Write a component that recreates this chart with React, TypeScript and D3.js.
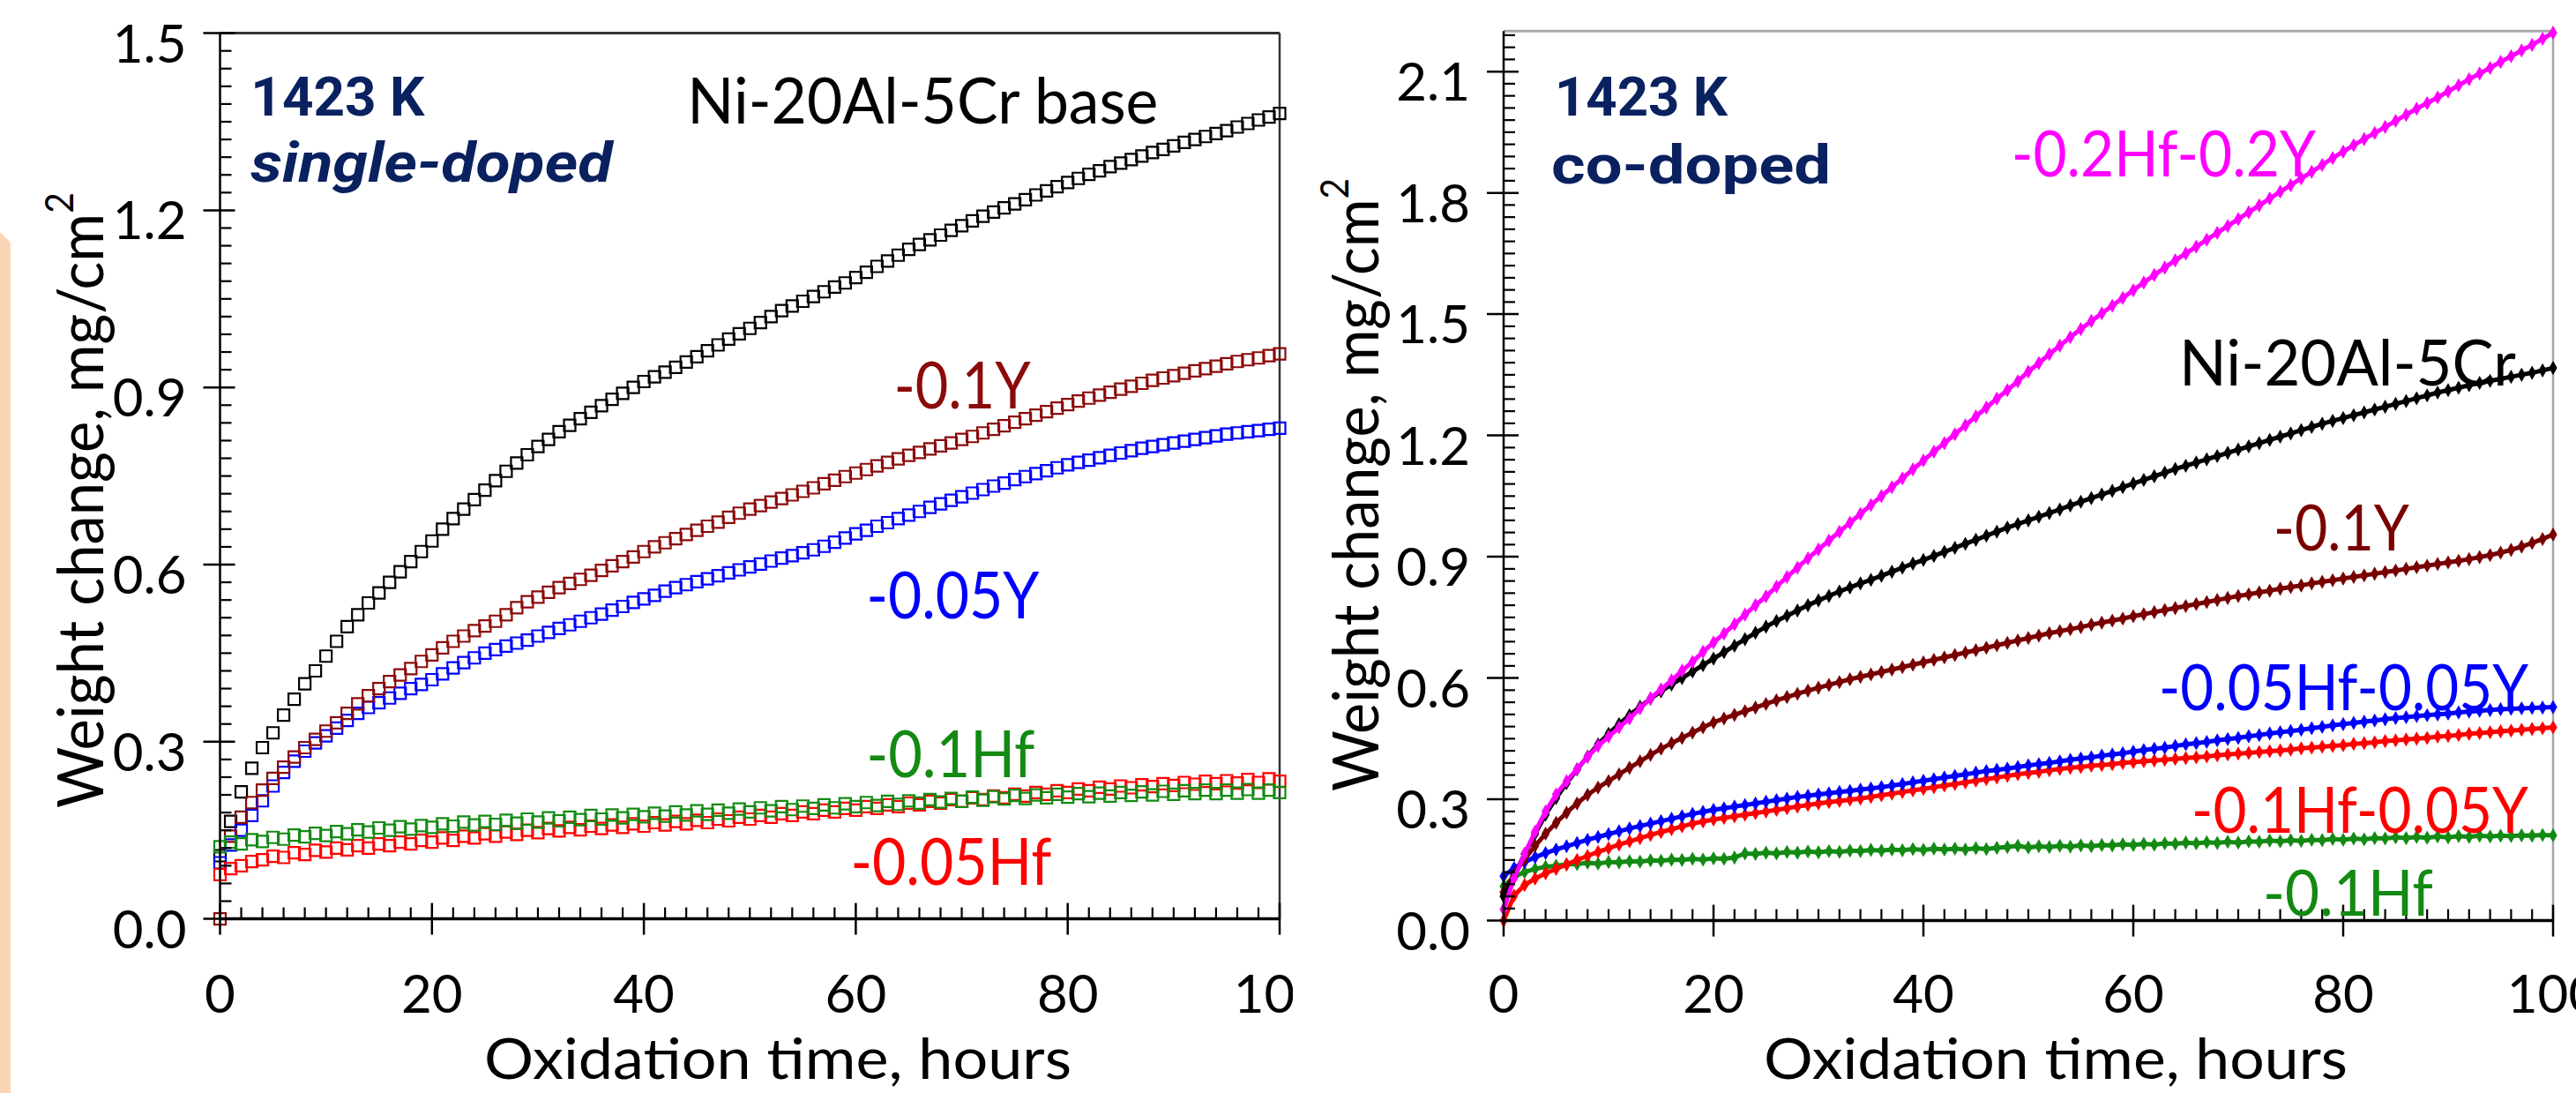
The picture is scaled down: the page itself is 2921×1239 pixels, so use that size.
import React from 'react';
import * as d3 from 'd3';

const W = 2921;
const H = 1239;
const FONT = "Lato, 'Open Sans', sans-serif";

// sampling grid, hours
const HOURS = [
  0, 1, 2, 3, 4, 5, 6, 7, 8, 9, 10, 11, 12, 13, 14, 15, 16, 17, 18, 19,
  20, 21, 22, 23, 24, 25, 26, 27, 28, 29, 30, 31, 32, 33, 34, 35, 36, 37, 38, 39,
  40, 41, 42, 43, 44, 45, 46, 47, 48, 49, 50, 51, 52, 53, 54, 55, 56, 57, 58, 59,
  60, 61, 62, 63, 64, 65, 66, 67, 68, 69, 70, 71, 72, 73, 74, 75, 76, 77, 78, 79,
  80, 81, 82, 83, 84, 85, 86, 87, 88, 89, 90, 91, 92, 93, 94, 95, 96, 97, 98, 99, 100,
];

// ---- left panel: single-doped, mg/cm2 ----
const baseL = [
  0.107, 0.165, 0.215, 0.255, 0.29, 0.315, 0.345, 0.372, 0.398, 0.42,
  0.445, 0.47, 0.495, 0.515, 0.535, 0.552, 0.57, 0.588, 0.605, 0.622,
  0.64, 0.66, 0.678, 0.694, 0.71, 0.726, 0.742, 0.758, 0.772, 0.786,
  0.8, 0.812, 0.825, 0.836, 0.847, 0.858, 0.869, 0.88, 0.89, 0.9,
  0.91, 0.918, 0.926, 0.934, 0.943, 0.952, 0.962, 0.972, 0.982, 0.991,
  1.0, 1.01, 1.02, 1.03, 1.038, 1.046, 1.054, 1.062, 1.07, 1.077,
  1.086, 1.095, 1.105, 1.114, 1.124, 1.134, 1.142, 1.15, 1.158, 1.166,
  1.174, 1.182, 1.19, 1.197, 1.204, 1.211, 1.218, 1.226, 1.233, 1.24,
  1.247, 1.254, 1.261, 1.267, 1.274, 1.28, 1.286, 1.292, 1.298, 1.303,
  1.309, 1.315, 1.32, 1.325, 1.33, 1.335, 1.341, 1.347, 1.353, 1.358,
  1.364,
];
const y01L = [
  0.0, 0.14, 0.172, 0.197, 0.218, 0.238, 0.257, 0.274, 0.29, 0.304,
  0.318, 0.332, 0.348, 0.364, 0.378, 0.39, 0.402, 0.413, 0.424, 0.436,
  0.447, 0.459, 0.47, 0.479, 0.488, 0.496, 0.504, 0.515, 0.527, 0.537,
  0.545, 0.553, 0.561, 0.568, 0.575, 0.582, 0.59, 0.598, 0.605, 0.613,
  0.622, 0.63, 0.637, 0.644, 0.651, 0.658, 0.665, 0.672, 0.68, 0.687,
  0.694, 0.7, 0.706, 0.712, 0.718, 0.724, 0.73, 0.737, 0.743, 0.749,
  0.755, 0.761, 0.767, 0.773, 0.779, 0.785, 0.79, 0.796, 0.801, 0.806,
  0.812, 0.817, 0.823, 0.829, 0.835, 0.841, 0.847, 0.853, 0.859, 0.865,
  0.871, 0.877, 0.882, 0.887, 0.892, 0.897, 0.902, 0.907, 0.912, 0.916,
  0.92, 0.924, 0.928, 0.932, 0.936, 0.94, 0.944, 0.947, 0.95, 0.954,
  0.957,
];
const y005L = [
  0.095, 0.125, 0.15, 0.175, 0.2, 0.225, 0.248, 0.267, 0.284, 0.298,
  0.31, 0.323, 0.336, 0.348, 0.358, 0.366, 0.374, 0.382, 0.39, 0.397,
  0.405, 0.415, 0.425, 0.434, 0.442, 0.45, 0.456, 0.462, 0.467, 0.472,
  0.479, 0.485, 0.492, 0.498, 0.504, 0.51, 0.516, 0.523, 0.529, 0.536,
  0.542, 0.548, 0.555, 0.561, 0.566, 0.571, 0.576, 0.581, 0.586, 0.591,
  0.596, 0.601, 0.606, 0.611, 0.615, 0.62, 0.625, 0.631, 0.638, 0.645,
  0.652, 0.658, 0.665, 0.671, 0.678, 0.684, 0.69, 0.697, 0.703, 0.709,
  0.715, 0.721, 0.727, 0.733, 0.738, 0.744, 0.749, 0.754, 0.759, 0.764,
  0.769, 0.773, 0.777, 0.781, 0.785, 0.789, 0.793, 0.797, 0.8, 0.803,
  0.806, 0.809, 0.812, 0.815, 0.818, 0.821, 0.823, 0.825, 0.827, 0.829,
  0.831,
];
const hf01L = [
  0.122, 0.13, 0.127, 0.134, 0.131, 0.138, 0.135, 0.142, 0.139, 0.145,
  0.141, 0.148, 0.144, 0.151, 0.147, 0.154, 0.15, 0.156, 0.152, 0.158,
  0.155, 0.161, 0.157, 0.164, 0.159, 0.165, 0.16, 0.167, 0.162, 0.169,
  0.164, 0.171, 0.166, 0.172, 0.168, 0.175, 0.169, 0.176, 0.171, 0.177,
  0.173, 0.179, 0.174, 0.181, 0.176, 0.183, 0.177, 0.184, 0.179, 0.186,
  0.181, 0.188, 0.183, 0.19, 0.185, 0.191, 0.187, 0.193, 0.188, 0.195,
  0.19, 0.197, 0.192, 0.199, 0.194, 0.2, 0.196, 0.202, 0.198, 0.204,
  0.199, 0.206, 0.201, 0.207, 0.203, 0.209, 0.204, 0.21, 0.205, 0.211,
  0.206, 0.212, 0.207, 0.213, 0.208, 0.214, 0.209, 0.215, 0.21, 0.216,
  0.211, 0.217, 0.212, 0.218, 0.212, 0.218, 0.213, 0.219, 0.213, 0.218,
  0.214,
];
const hf005L = [
  0.075, 0.085, 0.09, 0.097, 0.1, 0.106, 0.104, 0.112, 0.109, 0.116,
  0.113, 0.12, 0.117, 0.124, 0.12, 0.127, 0.124, 0.13, 0.127, 0.133,
  0.13, 0.137, 0.133, 0.14, 0.137, 0.144, 0.14, 0.147, 0.143, 0.15,
  0.146, 0.153, 0.149, 0.155, 0.151, 0.157, 0.153, 0.159, 0.155, 0.161,
  0.157, 0.163, 0.159, 0.165, 0.161, 0.167, 0.163, 0.169, 0.166, 0.172,
  0.169, 0.175, 0.172, 0.178, 0.175, 0.181, 0.178, 0.184, 0.181, 0.187,
  0.184, 0.19, 0.187, 0.193, 0.19, 0.196, 0.193, 0.199, 0.196, 0.202,
  0.199, 0.205, 0.202, 0.208, 0.205, 0.211, 0.208, 0.214, 0.211, 0.217,
  0.214, 0.22, 0.217, 0.223, 0.22, 0.225, 0.222, 0.227, 0.224, 0.229,
  0.226, 0.231, 0.228, 0.233, 0.229, 0.234, 0.23, 0.236, 0.231, 0.237,
  0.233,
];

// ---- right panel: co-doped, mg/cm2 ----
const hf02y02R = [
  0.028, 0.105, 0.165, 0.22, 0.27, 0.312, 0.345, 0.375, 0.405, 0.432,
  0.455, 0.478, 0.5, 0.525, 0.55, 0.572, 0.594, 0.618, 0.64, 0.665,
  0.688, 0.71, 0.733, 0.757, 0.78, 0.802, 0.826, 0.85, 0.873, 0.896,
  0.918, 0.94, 0.962, 0.984, 1.006, 1.028, 1.05, 1.072, 1.094, 1.116,
  1.138, 1.16, 1.181, 1.203, 1.225, 1.247, 1.269, 1.291, 1.312, 1.334,
  1.358, 1.379, 1.401, 1.422, 1.443, 1.463, 1.483, 1.502, 1.521, 1.54,
  1.559, 1.578, 1.597, 1.615, 1.633, 1.65, 1.667, 1.684, 1.701, 1.718,
  1.735, 1.752, 1.769, 1.786, 1.803, 1.819, 1.836, 1.852, 1.869, 1.886,
  1.902, 1.918, 1.933, 1.948, 1.963, 1.978, 1.993, 2.008, 2.022, 2.036,
  2.051, 2.066, 2.081, 2.095, 2.109, 2.124, 2.138, 2.152, 2.166, 2.181,
  2.196,
];
const baseR = [
  0.06, 0.11, 0.165, 0.215, 0.262, 0.303, 0.34, 0.374, 0.406, 0.436,
  0.462, 0.486, 0.508, 0.529, 0.549, 0.567, 0.584, 0.6, 0.616, 0.632,
  0.648, 0.664, 0.68, 0.696, 0.712, 0.727, 0.741, 0.754, 0.767, 0.78,
  0.792, 0.803, 0.814, 0.824, 0.834, 0.843, 0.853, 0.863, 0.873, 0.883,
  0.892, 0.902, 0.912, 0.922, 0.932, 0.942, 0.952, 0.962, 0.972, 0.981,
  0.99, 0.999, 1.008, 1.017, 1.027, 1.036, 1.045, 1.054, 1.063, 1.072,
  1.081, 1.09, 1.099, 1.108, 1.117, 1.125, 1.133, 1.141, 1.149, 1.157,
  1.165, 1.173, 1.181, 1.189, 1.197, 1.205, 1.213, 1.221, 1.229, 1.236,
  1.243, 1.25, 1.257, 1.264, 1.271, 1.278, 1.285, 1.292, 1.299, 1.306,
  1.312, 1.318, 1.324, 1.33, 1.335, 1.34, 1.345, 1.35, 1.355, 1.361,
  1.367,
];
const y01R = [
  0.07, 0.115, 0.152, 0.185, 0.215, 0.242, 0.267, 0.29, 0.311, 0.329,
  0.345, 0.362, 0.378, 0.394, 0.41, 0.425, 0.439, 0.452, 0.465, 0.478,
  0.49, 0.5, 0.509, 0.518, 0.527, 0.536, 0.545, 0.553, 0.561, 0.569,
  0.576, 0.583, 0.59, 0.597, 0.603, 0.609, 0.615, 0.621, 0.627, 0.633,
  0.639, 0.645, 0.651, 0.657, 0.663, 0.669, 0.675, 0.681, 0.687, 0.693,
  0.699, 0.705, 0.711, 0.716, 0.721, 0.726, 0.732, 0.737, 0.742, 0.747,
  0.753, 0.758, 0.763, 0.768, 0.773, 0.778, 0.783, 0.788, 0.793, 0.798,
  0.803, 0.807, 0.812, 0.816, 0.821, 0.825, 0.829, 0.834, 0.838, 0.842,
  0.846, 0.85, 0.854, 0.858, 0.862, 0.866, 0.87, 0.874, 0.878, 0.882,
  0.886, 0.89, 0.894, 0.899, 0.904, 0.91, 0.917, 0.925, 0.934, 0.944,
  0.955,
];
const hf005y005R = [
  0.11, 0.13, 0.145, 0.157, 0.167, 0.176, 0.184, 0.192, 0.2, 0.207,
  0.214, 0.221, 0.228, 0.234, 0.24, 0.246, 0.252, 0.258, 0.264, 0.269,
  0.274, 0.278, 0.282, 0.286, 0.29, 0.294, 0.298, 0.302, 0.306, 0.309,
  0.312, 0.315, 0.318, 0.321, 0.324, 0.327, 0.33, 0.334, 0.338, 0.342,
  0.346, 0.35, 0.354, 0.358, 0.362, 0.366, 0.37, 0.373, 0.376, 0.38,
  0.384, 0.387, 0.39, 0.394, 0.398, 0.401, 0.404, 0.408, 0.411, 0.414,
  0.418, 0.422, 0.425, 0.428, 0.432, 0.436, 0.439, 0.442, 0.446, 0.449,
  0.452, 0.456, 0.459, 0.463, 0.466, 0.469, 0.472, 0.476, 0.479, 0.483,
  0.486, 0.489, 0.492, 0.495, 0.498, 0.501, 0.503, 0.506, 0.508, 0.51,
  0.512, 0.515, 0.517, 0.519, 0.521, 0.523, 0.524, 0.525, 0.526, 0.527,
  0.528,
];
const hf01y005R = [
  0.0, 0.062, 0.088, 0.104, 0.117, 0.128, 0.139, 0.15, 0.16, 0.17,
  0.179, 0.188, 0.196, 0.204, 0.212, 0.219, 0.226, 0.233, 0.24, 0.245,
  0.25, 0.254, 0.258, 0.262, 0.266, 0.27, 0.274, 0.278, 0.282, 0.286,
  0.29, 0.293, 0.296, 0.299, 0.302, 0.306, 0.31, 0.314, 0.318, 0.322,
  0.326, 0.33, 0.334, 0.338, 0.342, 0.346, 0.35, 0.354, 0.358, 0.362,
  0.365, 0.368, 0.372, 0.375, 0.378, 0.38, 0.383, 0.385, 0.387, 0.39,
  0.392, 0.394, 0.396, 0.398, 0.4, 0.402, 0.404, 0.406, 0.409, 0.411,
  0.413, 0.415, 0.417, 0.419, 0.421, 0.423, 0.426, 0.428, 0.43, 0.432,
  0.434, 0.437, 0.439, 0.441, 0.444, 0.446, 0.448, 0.45, 0.452, 0.455,
  0.457, 0.459, 0.462, 0.464, 0.466, 0.468, 0.47, 0.472, 0.474, 0.476,
  0.478,
];
const hf01R = [
  0.085, 0.108, 0.12, 0.128, 0.133, 0.136, 0.139, 0.14, 0.143, 0.141,
  0.145, 0.144, 0.147, 0.146, 0.149, 0.148, 0.151, 0.15, 0.153, 0.151,
  0.154, 0.153, 0.156, 0.166, 0.165, 0.168, 0.166, 0.17, 0.168, 0.171,
  0.169, 0.172, 0.17, 0.173, 0.172, 0.175, 0.173, 0.176, 0.174, 0.177,
  0.175, 0.178, 0.176, 0.178, 0.176, 0.179, 0.177, 0.18, 0.182, 0.185,
  0.181, 0.184, 0.182, 0.185, 0.183, 0.186, 0.184, 0.187, 0.186, 0.189,
  0.187, 0.19, 0.188, 0.191, 0.19, 0.193, 0.191, 0.194, 0.192, 0.195,
  0.193, 0.196, 0.195, 0.198, 0.196, 0.199, 0.197, 0.2, 0.199, 0.202,
  0.2, 0.203, 0.201, 0.204, 0.203, 0.206, 0.204, 0.207, 0.205, 0.208,
  0.206, 0.209, 0.207, 0.21, 0.208, 0.21, 0.209, 0.211, 0.21, 0.212,
  0.211,
];

// ticks
const xTicks = [0, 20, 40, 60, 80, 100];
const xTickLabels = ['0', '20', '40', '60', '80', '100'];
const yTicksL = [0, 0.3, 0.6, 0.9, 1.2, 1.5];
const yTickLabelsL = ['0.0', '0.3', '0.6', '0.9', '1.2', '1.5'];
const yTicksR = [0, 0.3, 0.6, 0.9, 1.2, 1.5, 1.8, 2.1];
const yTickLabelsR = ['0.0', '0.3', '0.6', '0.9', '1.2', '1.5', '1.8', '2.1'];

const NAVY = '#0a2160';
const DARKRED = '#8b0a0a';

type Series = { values: number[]; color: string };
type Note = { text: string; h: number; v: number; color: string; size: number; len: number; bold?: boolean; italic?: boolean };

const leftPanel = {
  id: 'L',
  xRange: [249.5, 1451],
  yMax: 1.5,
  yRange: [1041.6, 37.6],
  yTicks: yTicksL,
  yTickLabels: yTickLabelsL,
  frame: '#333',
  clipRight: 1466,
  markers: 'square',
  series: [
    { values: baseL, color: '#000000' },
    { values: y005L, color: '#0000ff' },
    { values: y01L, color: DARKRED },
    { values: hf005L, color: '#ff0000' },
    { values: hf01L, color: '#138a13' },
  ] as Series[],
  notes: [
    { text: '1423 K', h: 2.9, v: 1.3605, color: NAVY, size: 62, len: 197, bold: true },
    { text: 'single-doped', h: 2.9, v: 1.2484, color: NAVY, size: 62, len: 410, bold: true, italic: true },
    { text: 'Ni-20Al-5Cr base', h: 44.1, v: 1.347, color: '#000', size: 72, len: 534 },
    { text: '-0.1Y', h: 63.6, v: 0.8645, color: DARKRED, size: 74, len: 155 },
    { text: '-0.05Y', h: 61.0, v: 0.509, color: '#0000ff', size: 74, len: 196 },
    { text: '-0.1Hf', h: 61.0, v: 0.24, color: '#138a13', size: 74, len: 191 },
    { text: '-0.05Hf', h: 59.5, v: 0.0577, color: '#ff0000', size: 74, len: 228 },
  ] as Note[],
  yTitle: { x: 117, y: 916, len: 698 },
  xTitle: { x: 549, y: 1223, len: 666 },
};

const rightPanel = {
  id: 'R',
  xRange: [1705, 2895],
  yMax: 2.2,
  yRange: [1043.6, 35.3],
  yTicks: yTicksR,
  yTickLabels: yTickLabelsR,
  frame: '#a8a8a8',
  clipRight: W,
  markers: 'diamond',
  series: [
    { values: hf01R, color: '#138a13' },
    { values: hf01y005R, color: '#ff0000' },
    { values: hf005y005R, color: '#0000ff' },
    { values: y01R, color: '#7a0000' },
    { values: baseR, color: '#000000' },
    { values: hf02y02R, color: '#ff00ff' },
  ] as Series[],
  notes: [
    { text: '1423 K', h: 4.87, v: 1.991, color: NAVY, size: 62, len: 196, bold: true },
    { text: 'co-doped', h: 4.54, v: 1.823, color: NAVY, size: 62, len: 317, bold: true },
    { text: '-0.2Hf-0.2Y', h: 48.4, v: 1.841, color: '#ff00ff', size: 72, len: 345 },
    { text: 'Ni-20Al-5Cr', h: 64.37, v: 1.3236, color: '#000', size: 72, len: 382 },
    { text: '-0.1Y', h: 73.36, v: 0.9156, color: '#7a0000', size: 72, len: 154 },
    { text: '-0.05Hf-0.05Y', h: 62.44, v: 0.5206, color: '#0000ff', size: 72, len: 419 },
    { text: '-0.1Hf-0.05Y', h: 65.55, v: 0.2173, color: '#ff0000', size: 72, len: 382 },
    { text: '-0.1Hf', h: 72.35, v: 0.0122, color: '#138a13', size: 72, len: 193 },
  ] as Note[],
  yTitle: { x: 1563, y: 897, len: 695 },
  xTitle: { x: 2000, y: 1223, len: 662 },
};

function Panel({ p }: { p: typeof leftPanel }) {
  const x = d3.scaleLinear().domain([0, 100]).range(p.xRange);
  const y = d3.scaleLinear().domain([0, p.yMax]).range(p.yRange);
  const x0 = x(0);
  const x1 = x(100);
  const y0 = y(0);
  const yTop = y(p.yMax);

  const minorX = d3.range(0, 101, 2).filter((v) => v % 20 !== 0);
  const minorY = d3
    .range(0, Math.round(p.yMax / 0.03) + 1)
    .filter((k) => k % 10 !== 0)
    .map((k) => k * 0.03)
    .filter((v) => v <= p.yMax + 1e-9);

  const square = d3.symbol(d3.symbolSquare, 169)() as string;
  const diamond = d3.symbol(d3.symbolDiamond, 75)() as string;
  const line = d3
    .line<number>()
    .x((_, i) => x(HOURS[i]))
    .y((d) => y(d));

  return (
    <g clipPath={`url(#clip${p.id})`}>
      <defs>
        <clipPath id={`clip${p.id}`}>
          <rect x={p.clipRight - 1470} y={0} width={1470} height={H} />
        </clipPath>
      </defs>

      {/* frame */}
      <line x1={x0} x2={x1} y1={yTop} y2={yTop} stroke={p.frame} strokeWidth={3} />
      <line x1={x1} x2={x1} y1={yTop} y2={y0} stroke={p.frame} strokeWidth={2.5} />

      {/* data */}
      {p.series.map((s, si) =>
        p.markers === 'square' ? (
          <g key={si} stroke={s.color} strokeWidth={2.2} fill="none">
            {s.values.map((v, i) => (
              <path key={i} d={square} transform={`translate(${x(HOURS[i])},${y(v)})`} />
            ))}
          </g>
        ) : (
          <g key={si}>
            <path d={line(s.values) || ''} fill="none" stroke={s.color} strokeWidth={5} />
            {s.values.map((v, i) => (
              <path key={i} d={diamond} fill={s.color} transform={`translate(${x(HOURS[i])},${y(v)})`} />
            ))}
          </g>
        )
      )}

      {/* axes */}
      <g stroke="#000">
        <line x1={x0} x2={x0} y1={yTop} y2={y0} strokeWidth={2.5} />
        <line x1={x0} x2={x1} y1={y0} y2={y0} strokeWidth={3.5} />
        {p.yTicks.map((v) => (
          <line key={`ym${v}`} x1={x0 - 19} x2={x0 + 17} y1={y(v)} y2={y(v)} strokeWidth={2.5} />
        ))}
        {minorY.map((v) => (
          <line key={`yn${v}`} x1={x0} x2={x0 + 13} y1={y(v)} y2={y(v)} strokeWidth={2.2} />
        ))}
        {xTicks.map((v) => (
          <line key={`xm${v}`} x1={x(v)} x2={x(v)} y1={y0 - 18} y2={y0 + 18} strokeWidth={2.5} />
        ))}
        {minorX.map((v) => (
          <line key={`xn${v}`} x1={x(v)} x2={x(v)} y1={y0 - 13} y2={y0} strokeWidth={2.2} />
        ))}
      </g>

      {/* tick labels */}
      <g fontFamily={FONT} fontSize={60} fill="#000">
        {p.yTicks.map((v, i) => (
          <text key={`yl${v}`} x={x0 - 38} y={y(v) + 33} textAnchor="end">
            {p.yTickLabels[i]}
          </text>
        ))}
        {xTicks.map((v, i) => (
          <text key={`xl${v}`} x={x(v)} y={1148} textAnchor="middle">
            {xTickLabels[i]}
          </text>
        ))}
      </g>

      {/* axis titles */}
      <text
        transform={`translate(${p.yTitle.x},${p.yTitle.y}) rotate(-90)`}
        fontFamily={FONT}
        fontSize={72}
        textLength={p.yTitle.len}
        lengthAdjust="spacingAndGlyphs"
      >
        Weight change, mg/cm
        <tspan fontSize={44} dy={-34}>
          2
        </tspan>
      </text>
      <text
        x={p.xTitle.x}
        y={p.xTitle.y}
        fontFamily={FONT}
        fontSize={64}
        textLength={p.xTitle.len}
        lengthAdjust="spacingAndGlyphs"
      >
        Oxidation time, hours
      </text>

      {/* annotations */}
      {p.notes.map((n, i) => (
        <text
          key={i}
          x={x(n.h)}
          y={y(n.v)}
          fill={n.color}
          fontFamily={n.bold ? "Roboto, 'DejaVu Sans', sans-serif" : FONT}
          fontWeight={n.bold ? 700 : 400}
          fontStyle={n.italic ? 'italic' : 'normal'}
          fontSize={n.size}
          textLength={n.len}
          lengthAdjust="spacingAndGlyphs"
        >
          {n.text}
        </text>
      ))}
    </g>
  );
}

export default function App() {
  return (
    <svg
      width={W}
      height={H}
      viewBox={`0 0 ${W} ${H}`}
      style={{ position: 'absolute', left: 0, top: 0, display: 'block', background: '#fff' }}
    >
      <rect x={0} y={0} width={W} height={H} fill="#fff" />
      <polygon points="0,263 12,275 12,1239 0,1239" fill="#fcd5b5" />
      <Panel p={leftPanel} />
      <Panel p={rightPanel} />
    </svg>
  );
}
